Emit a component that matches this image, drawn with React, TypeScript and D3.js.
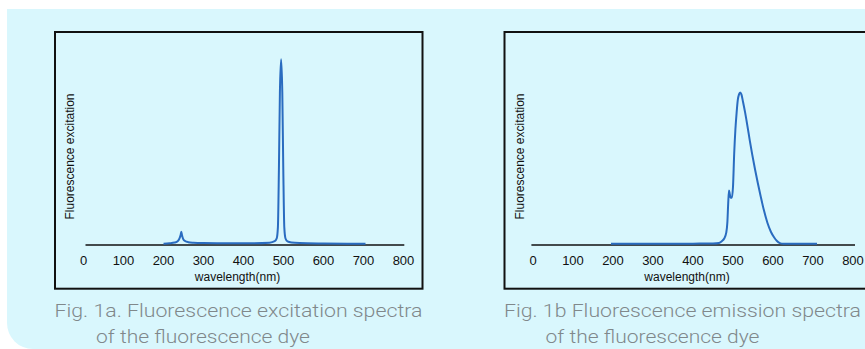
import React from "react";
import * as d3 from "d3";

// Excitation spectrum: wavelength (nm) and relative intensity
const excitationNm = [200, 215, 228, 236, 240, 243, 244.5, 246, 249, 254, 262, 275, 300, 350, 420, 465, 478, 483, 486, 488.5, 491, 494, 497, 499.5, 502, 505, 510, 520, 540, 600, 660, 705];
const excitationVal = [0.2, 0.4, 0.8, 1.6, 3, 5, 6.7, 5, 2.8, 1.6, 1, 0.7, 0.5, 0.4, 0.4, 0.7, 1.5, 3, 9, 40, 82, 100, 82, 40, 9, 3, 1.4, 0.8, 0.5, 0.3, 0.2, 0.2];

// Emission spectrum
const emissionNm = [195, 300, 400, 450, 465, 472, 478, 483, 486, 488, 490, 492, 494, 497, 500, 503, 506, 509, 512, 515, 518, 521, 525, 530, 536, 542, 548, 555, 562, 569, 577, 586, 595, 603, 610, 616, 622, 630, 660, 710];
const emissionVal = [0.2, 0.2, 0.2, 0.3, 0.6, 1.5, 3, 6, 12, 22, 29, 27, 25, 25, 31, 49, 62, 71, 78, 81, 82, 81, 77, 71.5, 64, 56, 48.5, 40.5, 33, 26, 18.5, 11.5, 6.5, 3.5, 1.6, 0.6, 0.2, 0.1, 0.1, 0.1];

const xTicks = [0, 100, 200, 300, 400, 500, 600, 700, 800];
const yLabel = "Fluorescence excitation";
const xLabel = "wavelength(nm)";
const captionA = ["Fig. 1a. Fluorescence excitation spectra", "of the fluorescence dye"];
const captionB = ["Fig. 1b Fluorescence emission spectra", "of the fluorescence dye"];

const BLUE = "#2a6cc0";
const GRAY = "#80888b";

function Panel({ dx, nm, vals, caption, cap1Len, axisFrom, axisTo }: any) {
  const x = d3.scaleLinear().domain([0, 800]).range([83.5 + dx, 403.5 + dx]);
  const y = d3.scaleLinear().domain([0, 100]).range([244, 59.3]);
  const pts = nm.map((n: number, i: number) => [n, vals[i]] as [number, number]);
  const line = d3
    .line<[number, number]>()
    .x((d) => x(d[0]))
    .y((d) => y(d[1]))
    .curve(d3.curveMonotoneX);
  const font = "'Liberation Sans', Arial, sans-serif";
  return (
    <g>
      <rect x={55 + dx} y={32} width={367.5} height={256.7} fill="none" stroke="#111" strokeWidth={2} />
      <line x1={x(axisFrom)} x2={x(axisTo)} y1={245} y2={245} stroke="#111" strokeWidth={1.6} />
      <path d={line(pts) || ""} fill="none" stroke={BLUE} strokeWidth={2} strokeLinejoin="round" />
      {xTicks.map((t) => (
        <text key={t} x={x(t)} y={265} textAnchor="middle" fontFamily={font} fontSize={13} fill="#111">
          {t}
        </text>
      ))}
      <text x={x(385)} y={281} textAnchor="middle" fontFamily={font} fontSize={12} fill="#111">
        {xLabel}
      </text>
      <text
        transform={`translate(${74 + dx},156.5) rotate(-90)`}
        textAnchor="middle"
        fontFamily={font}
        fontSize={12}
        fill="#111"
      >
        {yLabel}
      </text>
      <text x={54.5 + dx} y={316.7} fontFamily="Roboto, sans-serif" fontWeight={300} fontSize={18} fill={GRAY} textLength={cap1Len} lengthAdjust="spacingAndGlyphs">
        {caption[0]}
      </text>
      <text x={96 + dx} y={343.3} fontFamily="Roboto, sans-serif" fontWeight={300} fontSize={18} fill={GRAY} textLength={214} lengthAdjust="spacingAndGlyphs">
        {caption[1]}
      </text>
    </g>
  );
}

export default function App() {
  return (
    <svg
      width={865}
      height={349}
      style={{ position: "fixed", left: 0, top: 0, display: "block" }}
    >
      <rect x={0} y={0} width={865} height={349} fill="#ffffff" />
      <path d="M7,9 H865 V349 H33 A26,26 0 0 1 7,323 Z" fill="#d9f7fd" />
      <Panel dx={0} nm={excitationNm} vals={excitationVal} caption={captionA} cap1Len={368} axisFrom={5} axisTo={802} />
      <Panel dx={449.5} nm={emissionNm} vals={emissionVal} caption={captionB} cap1Len={357} axisFrom={-4} axisTo={805} />
    </svg>
  );
}
